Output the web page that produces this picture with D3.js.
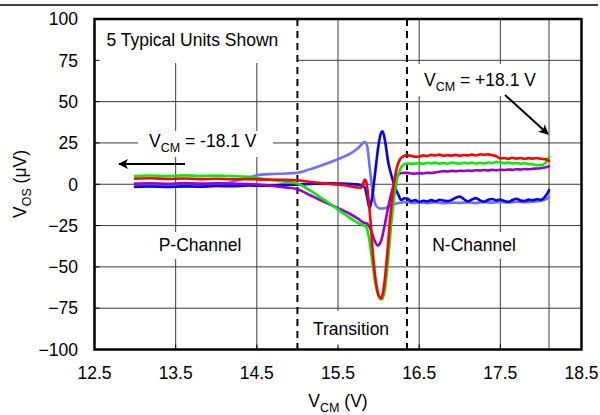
<!DOCTYPE html>
<html><head><meta charset="utf-8">
<script src="https://cdn.jsdelivr.net/npm/d3@7"></script>
<style>body{margin:0;background:#fff}svg{display:block}</style>
</head><body><svg id="c" width="600" height="415"></svg>
<script>
// ---- data ----
const xTicks = [12.5, 13.5, 14.5, 15.5, 16.5, 17.5, 18.5];
const xTickLabels = ["12.5", "13.5", "14.5", "15.5", "16.5", "17.5", "18.5"];
const yTicks = [-100, -75, -50, -25, 0, 25, 50, 75, 100];
const yTickLabels = ["\u2212100", "\u221275", "\u221250", "\u221225", "0", "25", "50", "75", "100"];
const regionBounds = [15.0, 16.35];
const vcmMarker = 18.1;

const unitBlue = [[13.0,-1.6],[13.2,-1.4],[13.4,-1.7],[13.6,-1.3],[13.8,-1.5],[14.0,-1.1],[14.2,-1.2],[14.4,-0.8],[14.6,-0.9],[14.8,-0.4],[15.0,-0.2],[15.2,0.3],[15.4,0.6],[15.55,0.4],[15.7,0],[15.78,-0.4],[15.83,-2],[15.86,-8],[15.89,-14.5],[15.92,-8],[15.96,8],[16.0,24],[16.03,31],[16.05,32],[16.08,26],[16.12,13],[16.16,5],[16.2,-1.5],[16.24,-6],[16.28,-9.5],[16.32,-8.5],[16.36,-8.8],[16.4,-10.2],[16.45,-9.6],[16.5,-10.7],[16.55,-10],[16.6,-10.4],[16.65,-9.6],[16.7,-10.3],[16.75,-9.4],[16.8,-9.8],[16.85,-10.2],[16.9,-9.5],[16.95,-8.2],[17.0,-7.5],[17.05,-9],[17.1,-10.4],[17.15,-9.2],[17.2,-8.4],[17.25,-9.8],[17.3,-10.6],[17.35,-9.4],[17.4,-8.9],[17.45,-9.8],[17.5,-9.3],[17.55,-10.1],[17.6,-10.6],[17.65,-9.5],[17.7,-8.8],[17.75,-9.9],[17.8,-10.1],[17.85,-9.3],[17.9,-9.7],[17.95,-9.1],[18.0,-9.4],[18.05,-7.5],[18.08,-5.5],[18.1,-3.6]];
const unitLightBlue = [[13.0,-1.2],[13.3,-1.0],[13.6,-1.3],[13.9,-0.8],[14.1,0.3],[14.25,2.2],[14.4,4.3],[14.55,5.8],[14.7,6.2],[14.85,6.5],[15.0,7.0],[15.15,9.0],[15.3,11.5],[15.45,14.2],[15.55,16.2],[15.65,18.6],[15.75,22],[15.83,25.6],[15.86,23],[15.88,15],[15.9,6],[15.93,-5.6],[15.97,-13],[16.02,-14.7],[16.08,-14.5],[16.15,-12.7],[16.22,-11.7],[16.3,-11],[16.36,-10.7],[16.42,-11.3],[16.5,-11],[16.6,-11.4],[16.7,-10.9],[16.8,-11.5],[16.9,-11.1],[17.0,-11.3],[17.1,-10.9],[17.2,-11.4],[17.3,-10.8],[17.4,-11.1],[17.5,-10.7],[17.6,-11],[17.7,-10.6],[17.8,-10.9],[17.9,-10.5],[18.0,-10.1],[18.05,-9.2],[18.1,-8]];
const unitRed = [[13.0,3.4],[13.2,3.6],[13.4,3.2],[13.6,3.5],[13.8,3.1],[14.0,3.3],[14.2,3.0],[14.4,3.1],[14.6,2.8],[14.8,2.7],[15.0,2.4],[15.2,1.2],[15.4,0.2],[15.6,-0.8],[15.72,-1.8],[15.78,-2.2],[15.81,0.5],[15.83,2.8],[15.85,1],[15.87,-6],[15.9,-22],[15.93,-42],[15.97,-60],[16.0,-67],[16.03,-69.2],[16.06,-64],[16.1,-46],[16.14,-22],[16.18,-3],[16.22,9],[16.26,14.8],[16.3,16.8],[16.35,17.5],[16.4,17.3],[16.45,16.6],[16.5,16.8],[16.55,17.5],[16.6,17.1],[16.65,17.8],[16.7,17.4],[16.75,17.9],[16.8,17.2],[16.85,17.6],[16.9,17.3],[16.95,17.8],[17.0,17.2],[17.05,17.7],[17.1,17.5],[17.15,17.9],[17.2,17.4],[17.25,18.2],[17.3,17.8],[17.35,18.1],[17.4,17.6],[17.45,17.0],[17.5,15.6],[17.55,15.9],[17.6,15.4],[17.65,16],[17.7,15.5],[17.75,15.9],[17.8,15.3],[17.85,15.8],[17.9,15.5],[17.95,15.9],[18.0,15.4],[18.05,15.2],[18.1,14.1]];
const unitGreen = [[13.0,5.0],[13.2,5.3],[13.4,4.9],[13.6,5.4],[13.8,5.0],[14.0,5.2],[14.2,4.9],[14.35,4.6],[14.5,3.8],[14.65,2.9],[14.8,1.9],[15.0,0.4],[15.15,-3.6],[15.3,-8.5],[15.45,-13.5],[15.55,-17],[15.65,-20.5],[15.75,-23.5],[15.82,-25],[15.85,-26],[15.88,-32],[15.92,-46],[15.96,-60],[16.0,-67.5],[16.045,-69.6],[16.08,-63],[16.12,-44],[16.16,-22],[16.2,-5],[16.23,4],[16.27,9.5],[16.31,12],[16.36,12.6],[16.42,12.4],[16.5,12.8],[16.55,12.3],[16.6,13],[16.65,12.6],[16.7,13.1],[16.75,12.5],[16.8,12.9],[16.85,12.4],[16.9,13.2],[16.95,12.7],[17.0,12.5],[17.05,13],[17.1,12.6],[17.15,13.1],[17.2,12.5],[17.25,12.9],[17.3,12.6],[17.35,13.2],[17.4,12.8],[17.45,13.6],[17.5,13.2],[17.55,12.8],[17.6,13.1],[17.65,12.6],[17.7,12.9],[17.75,12.4],[17.8,12.7],[17.85,12.2],[17.9,12.1],[17.95,11.6],[18.0,11.5],[18.05,12.5],[18.1,16.5]];
const unitPurple = [[13.0,0.4],[13.2,0.6],[13.4,0.3],[13.6,0.7],[13.8,0.4],[14.0,0.5],[14.2,0.3],[14.4,0.1],[14.55,-0.3],[14.7,-1.0],[14.85,-1.9],[15.0,-3.0],[15.15,-6.5],[15.3,-10],[15.45,-13.3],[15.55,-15.5],[15.65,-18],[15.75,-21],[15.82,-23.3],[15.86,-23.8],[15.9,-27],[15.95,-34],[15.99,-37],[16.03,-34.5],[16.07,-26],[16.11,-16],[16.15,-7],[16.19,0],[16.23,5],[16.28,6.8],[16.35,6.9],[16.42,6.4],[16.5,6.7],[16.55,6.5],[16.6,7.0],[16.65,6.8],[16.7,7.1],[16.75,7.6],[16.8,7.9],[16.85,7.7],[16.9,8.1],[16.95,7.9],[17.0,8.2],[17.05,8.0],[17.1,8.3],[17.15,8.1],[17.2,8.5],[17.25,8.3],[17.3,8.6],[17.35,8.4],[17.4,8.7],[17.45,8.5],[17.5,8.8],[17.55,8.6],[17.6,8.9],[17.65,8.8],[17.7,9.1],[17.75,8.9],[17.8,9.2],[17.85,9.1],[17.9,9.4],[17.95,9.5],[18.0,9.7],[18.05,10.1],[18.1,10.9]];

const seriesList = [unitLightBlue, unitBlue, unitPurple, unitGreen, unitRed];
const seriesColors = ["#6e6eff", "#0000ff", "#9900cc", "#00ee00", "#ff0000"];

// ---- chart ----
(function () {
const svg = d3.select("#c");
const FONT = "'Liberation Sans', Arial, sans-serif";
const FS = 17.5;
const pL = 94.5, pR = 581.5, pT = 19, pB = 349.5;
const x = d3.scaleLinear().domain([12.5, 18.5]).range([pL, pR]);
const y = d3.scaleLinear().domain([-100, 100]).range([pB, pT]);

svg.append("rect").attr("width", 600).attr("height", 415).attr("fill", "#fff");
// top rule
svg.append("line").attr("x1", 0).attr("x2", 598).attr("y1", 5).attr("y2", 5)
  .attr("stroke", "#000").attr("stroke-width", 1.5);

const grid = svg.append("g").attr("stroke", "#3c3c3c").attr("stroke-width", 1);
grid.selectAll("line.h").data(yTicks.slice(1, -1)).join("line")
  .attr("class", "h")
  .attr("x1", pL).attr("x2", pR)
  .attr("y1", d => y(d)).attr("y2", d => y(d));
grid.selectAll("line.v").data(xTicks.slice(1, -1).concat([vcmMarker])).join("line")
  .attr("class", "v")
  .attr("x1", d => x(d)).attr("x2", d => x(d))
  .attr("y1", pT).attr("y2", pB);

// white label backgrounds
const boxes = [
  [pL, pT, x(regionBounds[0]) - pL, 44],
  [417, 64, 130, 32],
  [138, 131, 135, 26],
  [152, 232, 96, 27],
  [425, 232, 98, 27],
  [306, 311, 92, 36]
];
svg.append("g").selectAll("rect").data(boxes).join("rect")
  .attr("x", d => d[0]).attr("y", d => d[1]).attr("width", d => d[2]).attr("height", d => d[3])
  .attr("fill", "#fff");

// inner ticks
const tk = svg.append("g").attr("stroke", "#000").attr("stroke-width", 1);
tk.selectAll("line.yt").data(yTicks).join("line")
  .attr("class", "yt")
  .attr("x1", pL).attr("x2", pL + 5).attr("y1", d => y(d)).attr("y2", d => y(d));
tk.selectAll("line.xt").data(xTicks).join("line")
  .attr("class", "xt")
  .attr("x1", d => x(d)).attr("x2", d => x(d)).attr("y1", pB).attr("y2", pB - 5);

// dashed region boundaries
svg.append("g").selectAll("line").data(regionBounds).join("line")
  .attr("x1", d => x(d)).attr("x2", d => x(d)).attr("y1", pT).attr("y2", pB)
  .attr("stroke", "#000").attr("stroke-width", 2).attr("stroke-dasharray", "7,5");

// data lines
const line = d3.line().x(d => x(d[0])).y(d => y(d[1])).curve(d3.curveMonotoneX);
svg.append("g").selectAll("path").data(seriesList).join("path")
  .attr("d", line).attr("fill", "none")
  .attr("stroke", (d, i) => seriesColors[i]).attr("stroke-width", 2.6)
  .attr("stroke-linejoin", "round").attr("stroke-linecap", "round");

// border
svg.append("rect").attr("x", pL).attr("y", pT).attr("width", pR - pL).attr("height", pB - pT)
  .attr("fill", "none").attr("stroke", "#000").attr("stroke-width", 2.5);

// tick labels
const tl = svg.append("g").attr("font-family", FONT).attr("font-size", FS).attr("fill", "#000");
tl.selectAll("text.y").data(yTicks).join("text")
  .attr("class", "y")
  .attr("x", 78).attr("y", d => y(d) + 6.3).attr("text-anchor", "end")
  .text((d, i) => yTickLabels[i]);
tl.selectAll("text.x").data(xTicks).join("text")
  .attr("class", "x")
  .attr("x", d => x(d)).attr("y", 379).attr("text-anchor", "middle")
  .text((d, i) => xTickLabels[i]);

// annotations
const ann = svg.append("g").attr("font-family", FONT).attr("font-size", FS).attr("fill", "#000");
ann.append("text").attr("x", 106.5).attr("y", 46).text("5 Typical Units Shown");
function vcmText(g, xx, yy, rest) {
  const t = g.append("text").attr("x", xx).attr("y", yy);
  t.append("tspan").text("V");
  t.append("tspan").attr("font-size", 12.5).attr("dy", 4.5).text("CM");
  t.append("tspan").attr("dy", -4.5).text(rest);
  return t;
}
vcmText(ann, 149, 147, " = -18.1 V");
vcmText(ann, 424, 86, " = +18.1 V");
ann.append("text").attr("x", 200).attr("y", 251).attr("text-anchor", "middle").text("P-Channel");
ann.append("text").attr("x", 474).attr("y", 251).attr("text-anchor", "middle").text("N-Channel");
ann.append("text").attr("x", 351).attr("y", 335).attr("text-anchor", "middle").text("Transition");

// arrows
const defs = svg.append("defs");
defs.append("marker").attr("id", "ah").attr("viewBox", "0 0 10 10").attr("refX", 9).attr("refY", 5)
  .attr("markerWidth", 12).attr("markerHeight", 10).attr("markerUnits", "userSpaceOnUse")
  .attr("orient", "auto")
  .append("path").attr("d", "M0,0 L10,5 L0,10 L2.5,5 Z").attr("fill", "#000");
svg.append("line").attr("x1", 185).attr("y1", 164).attr("x2", 119).attr("y2", 164)
  .attr("stroke", "#000").attr("stroke-width", 2).attr("marker-end", "url(#ah)");
svg.append("line").attr("x1", 505).attr("y1", 95).attr("x2", x(vcmMarker) - 1).attr("y2", 134)
  .attr("stroke", "#000").attr("stroke-width", 2).attr("marker-end", "url(#ah)");

// axis titles
const yt = svg.append("text").attr("font-family", FONT).attr("font-size", FS)
  .attr("transform", "translate(26,184) rotate(-90)").attr("text-anchor", "middle");
yt.append("tspan").text("V");
yt.append("tspan").attr("font-size", 12.5).attr("dy", 4.5).text("OS");
yt.append("tspan").attr("dy", -4.5).text(" (\u03BCV)");

const xt = svg.append("text").attr("font-family", FONT).attr("font-size", FS)
  .attr("x", 338).attr("y", 407).attr("text-anchor", "middle");
xt.append("tspan").text("V");
xt.append("tspan").attr("font-size", 12.5).attr("dy", 4.5).text("CM");
xt.append("tspan").attr("dy", -4.5).text(" (V)");
})();
</script>
</body></html>
